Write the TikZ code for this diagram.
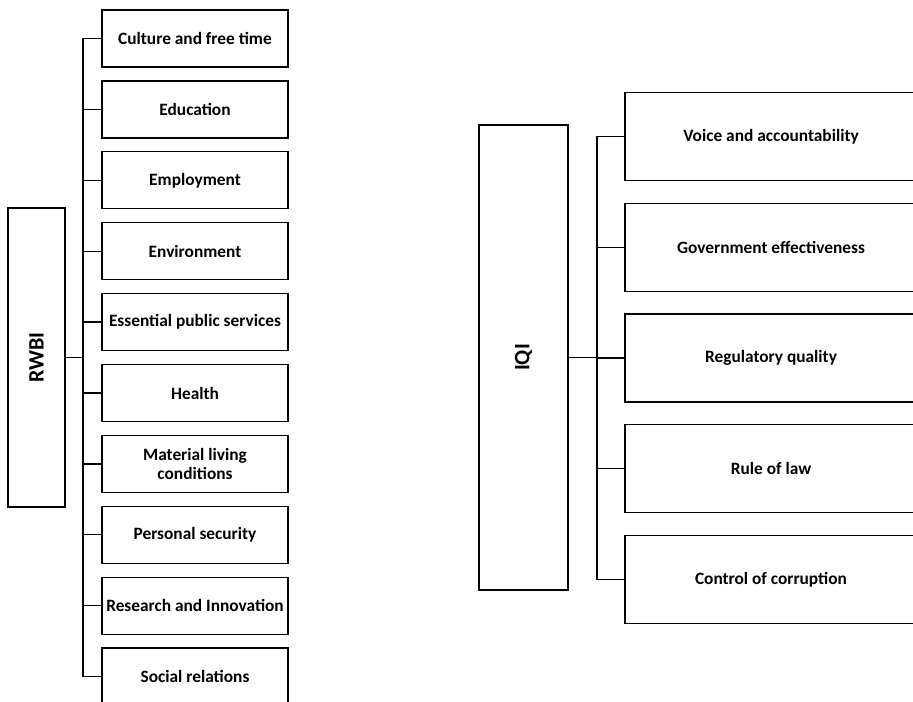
\documentclass[tikz,border=0pt]{standalone}
\usepackage{fontspec}
\setmainfont{Carlito}
\usetikzlibrary{positioning}

\begin{document}
\begin{tikzpicture}[x=0.75pt,y=-0.75pt,
  dimbox/.style={draw,line width=1pt,minimum width=139.5pt,minimum height=42.75pt,inner sep=1pt,align=center,font=\fontsize{13}{14}\selectfont\bfseries},
  qualbox/.style={draw,line width=1pt,minimum width=219pt,minimum height=66pt,inner sep=1pt,align=center,font=\fontsize{13}{14}\selectfont\bfseries},
  indexbox/.style={draw,line width=1pt,rotate=90,font=\fontsize{16.5}{19}\selectfont\bfseries},
  link/.style={line width=1pt}]
\clip (0,0) rectangle (913,702);
% RWBI and its ten dimensions
\node[indexbox,minimum width=224.25pt,minimum height=42.75pt] (rwbi) at (36.5,357.5) {RWBI};
\coordinate (hubL) at (83,357.5);
\foreach \lbl [count=\i] in {Culture and free time,Education,Employment,Environment,Essential public services,Health,{Material living\\conditions},Personal security,Research and Innovation,Social relations}
  \node[dimbox] (r\i) at (195,{38.5+70.9*(\i-1)}) {\lbl};
\draw[link] (rwbi.south) -- (hubL);
\draw[link] (r1.west -| hubL) -- (r10.west -| hubL);
\foreach \i in {1,...,10}
  \draw[link] (r\i.west) -- (r\i.west -| hubL);
% IQI and its five pillars
\node[indexbox,minimum width=348.75pt,minimum height=66.75pt] (iqi) at (523.5,357.5) {IQI};
\coordinate (hubR) at (597,357.5);
\foreach \lbl [count=\i] in {Voice and accountability,Government effectiveness,Regulatory quality,Rule of law,Control of corruption}
  \node[qualbox] (q\i) at (771,{136.5+110.75*(\i-1)}) {\lbl};
\draw[link] (iqi.south) -- (hubR);
\draw[link] (q1.west -| hubR) -- (q5.west -| hubR);
\foreach \i in {1,...,5}
  \draw[link] (q\i.west) -- (q\i.west -| hubR);
\end{tikzpicture}
\end{document}
